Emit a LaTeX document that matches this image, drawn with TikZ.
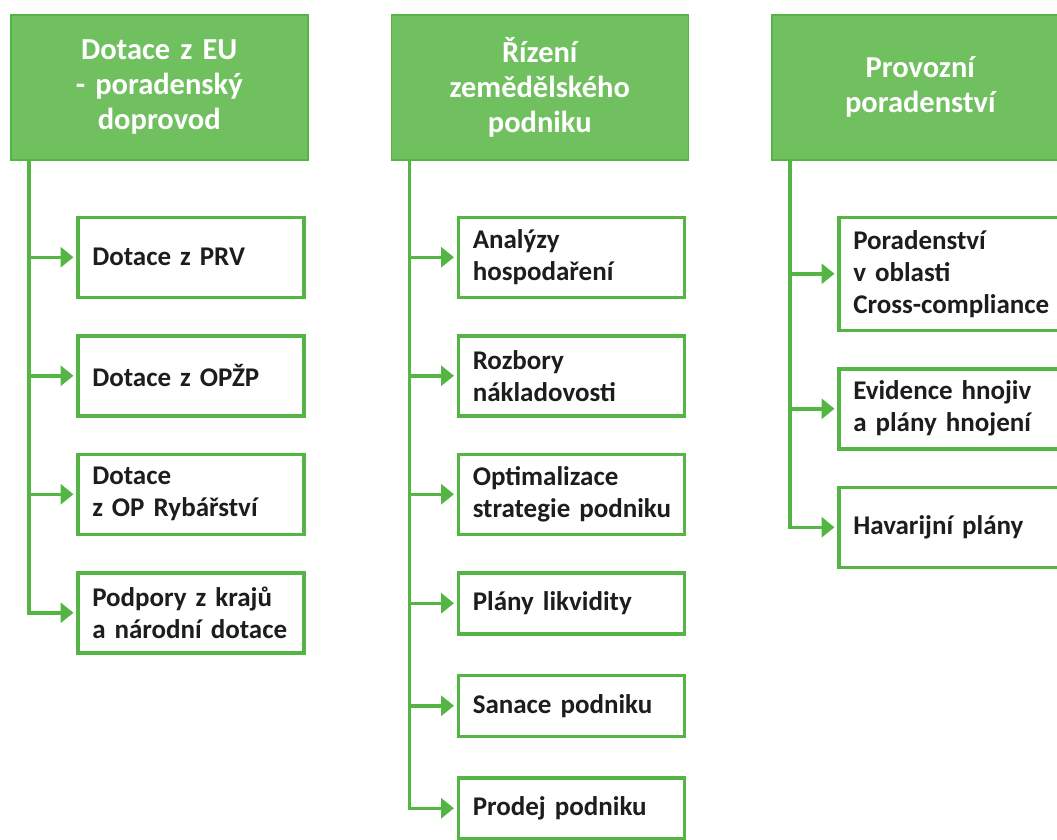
\documentclass[tikz,border=0pt]{standalone}
\usepackage{fontspec}
\setmainfont{Carlito}
\usepackage{tikz}
\usetikzlibrary{arrows.meta,positioning}
\definecolor{agrgreen}{RGB}{112,192,95}
\definecolor{agrdark}{RGB}{84,180,68}
\definecolor{agrtext}{RGB}{30,28,28}
\tikzstyle{headbox} = [rectangle, minimum width=297pt, minimum height=145pt, text width=280pt, align=center, inner sep=0pt, draw=agrdark, fill=agrgreen, line width=1.5pt, text=white, font=\fontsize{30.5}{35}\selectfont\bfseries]
\tikzstyle{itembox} = [rectangle, minimum width=226pt, minimum height=80pt, text width=197pt, align=left, inner xsep=14.5pt, inner ysep=0pt, draw=agrdark, fill=white, line width=3.5pt, text=agrtext, font=\fontsize{27}{32}\selectfont\bfseries]
\tikzstyle{branch} = [line width=3.5pt, color=agrdark, -{Triangle[length=13pt,width=20pt]}, shorten >=2.5pt]

\begin{document}
\begin{tikzpicture}[x=1pt, y=-1pt, node distance=35pt]
\useasboundingbox (0,0) rectangle (1057,839);
\node[headbox, anchor=north west] (hA) at (10,14) {Dotace z EU\\ - poradenský\\ doprovod};
\node[headbox, right=82pt of hA] (hB) {Řízení\\ zemědělského\\ podniku};
\node[headbox, right=82pt of hB] (hC) {Provozní\\ poradenství};

\node[itembox, below right=55pt and 66pt of hA.south west] (a1) {Dotace z PRV};
\node[itembox, below=of a1] (a2) {Dotace z OPŽP};
\node[itembox, below=of a2] (a3) {Dotace\\ z OP Rybářství};
\node[itembox, below=of a3] (a4) {Podpory z krajů\\ a národní dotace};

\node[itembox, below right=55pt and 66pt of hB.south west] (b1) {Analýzy\\ hospodaření};
\node[itembox, below=of b1] (b2) {Rozbory\\ nákladovosti};
\node[itembox, below=of b2] (b3) {Optimalizace\\ \mbox{strategie podniku}};
\node[itembox, below=of b3, minimum height=61pt] (b4) {Plány likvidity};
\node[itembox, below=38pt of b4, minimum height=61pt] (b5) {Sanace podniku};
\node[itembox, below=38pt of b5, minimum height=61pt] (b6) {Prodej podniku};

\node[itembox, below right=55pt and 66pt of hC.south west, minimum height=113pt] (c1) {Poradenství\\ v oblasti\\ \mbox{Cross-compliance}};
\node[itembox, below=of c1] (c2) {Evidence hnojiv\\ a plány hnojení};
\node[itembox, below=of c2] (c3) {Havarijní plány};

\foreach \n in {a1,a2,a3,a4}
  \draw[branch] ([xshift=19pt]hA.south west) |- (\n.west);
\foreach \n in {b1,b2,b3,b4,b5,b6}
  \draw[branch] ([xshift=19pt]hB.south west) |- (\n.west);
\foreach \n in {c1,c2,c3}
  \draw[branch] ([xshift=19pt]hC.south west) |- (\n.west);
\end{tikzpicture}
\end{document}
